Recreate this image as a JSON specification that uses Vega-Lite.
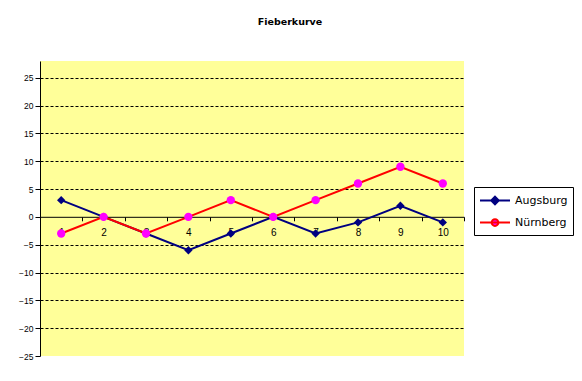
{
  "$schema": "https://vega.github.io/schema/vega-lite/v6.json",
  "width": 424,
  "height": 295,
  "autosize": {"type": "none"},
  "padding": {"left": 40, "top": 61, "right": 118, "bottom": 25},
  "background": "white",
  "title": {
    "text": "Fieberkurve",
    "anchor": "middle",
    "dx": 38,
    "offset": 26.5,
    "baseline": "alphabetic",
    "font": "DejaVu Sans",
    "fontSize": 9.5,
    "fontWeight": "bold",
    "color": "black"
  },
  "data": {
    "values": [
      {"Tag": 1, "Stadt": "Augsburg", "Wert": 3},
      {"Tag": 2, "Stadt": "Augsburg", "Wert": 0},
      {"Tag": 3, "Stadt": "Augsburg", "Wert": -3},
      {"Tag": 4, "Stadt": "Augsburg", "Wert": -6},
      {"Tag": 5, "Stadt": "Augsburg", "Wert": -3},
      {"Tag": 6, "Stadt": "Augsburg", "Wert": 0},
      {"Tag": 7, "Stadt": "Augsburg", "Wert": -3},
      {"Tag": 8, "Stadt": "Augsburg", "Wert": -1},
      {"Tag": 9, "Stadt": "Augsburg", "Wert": 2},
      {"Tag": 10, "Stadt": "Augsburg", "Wert": -1},
      {"Tag": 1, "Stadt": "Nürnberg", "Wert": -3},
      {"Tag": 2, "Stadt": "Nürnberg", "Wert": 0},
      {"Tag": 3, "Stadt": "Nürnberg", "Wert": -3},
      {"Tag": 4, "Stadt": "Nürnberg", "Wert": 0},
      {"Tag": 5, "Stadt": "Nürnberg", "Wert": 3},
      {"Tag": 6, "Stadt": "Nürnberg", "Wert": 0},
      {"Tag": 7, "Stadt": "Nürnberg", "Wert": 3},
      {"Tag": 8, "Stadt": "Nürnberg", "Wert": 6},
      {"Tag": 9, "Stadt": "Nürnberg", "Wert": 9},
      {"Tag": 10, "Stadt": "Nürnberg", "Wert": 6}
    ]
  },
  "encoding": {
    "x": {
      "field": "Tag",
      "type": "ordinal",
      "scale": {"type": "band", "paddingInner": 0, "paddingOuter": 0},
      "axis": {
        "title": null,
        "offset": -139.2,
        "domainColor": "black",
        "domainWidth": 1,
        "tickColor": "black",
        "tickSize": 4,
        "tickBand": "extent",
        "labelAngle": 0,
        "labelFont": "Liberation Sans",
        "labelFontSize": 10,
        "labelColor": "black",
        "labelPadding": 7,
        "grid": false
      }
    },
    "y": {
      "field": "Wert",
      "type": "quantitative",
      "scale": {"domain": [-25, 28], "nice": false, "zero": false},
      "axis": {
        "title": null,
        "values": [-25, -20, -15, -10, -5, 0, 5, 10, 15, 20, 25],
        "grid": true,
        "gridColor": "black",
        "gridDash": [3, 2],
        "gridOpacity": {"condition": {"test": "datum.value === -25 || datum.value === 0", "value": 0}, "value": 1},
        "domainColor": "black",
        "tickColor": "black",
        "tickSize": 5,
        "labelFont": "Liberation Sans",
        "labelFontSize": 8.5,
        "labelColor": "black",
        "labelPadding": 2
      }
    }
  },
  "layer": [
    {
      "mark": {"type": "line", "strokeWidth": 2},
      "encoding": {
        "color": {
          "field": "Stadt",
          "type": "nominal",
          "scale": {"domain": ["Augsburg", "Nürnberg"], "range": ["#000080", "#FF0000"]},
          "legend": {
            "title": null,
            "orient": "none",
            "legendX": 434,
            "legendY": 126,
            "strokeColor": "black",
            "fillColor": "white",
            "padding": 5,
            "symbolSize": 225,
            "symbolStrokeWidth": 2,
            "labelOffset": 19,
            "rowPadding": 5,
            "labelFont": "DejaVu Sans",
            "labelFontSize": 11,
            "labelColor": "black",
            "symbolType": "M-1,0H3",
            "encode": {
              "symbols": {
                "update": {
                  "shape": {"signal": "datum.value === 'Augsburg' ? 'M-1,0H3M1,-0.5L1.5,0L1,0.5L0.5,0Z' : 'M-1,0H3M1.45,0A0.45,0.45,0,1,1,0.55,0A0.45,0.45,0,1,1,1.45,0Z'"},
                  "fill": {"signal": "datum.value === 'Augsburg' ? '#000080' : '#FF00FF'"},
                  "strokeWidth": {"value": 2}
                }
              }
            }
          }
        }
      }
    },
    {
      "transform": [{"filter": "datum.Stadt === 'Augsburg'"}],
      "mark": {"type": "point", "shape": "diamond", "filled": true, "size": 70, "opacity": 1, "color": "#000080"}
    },
    {
      "transform": [{"filter": "datum.Stadt === 'Nürnberg'"}],
      "mark": {"type": "point", "shape": "circle", "filled": true, "size": 70, "opacity": 1, "color": "#FF00FF"}
    }
  ],
  "config": {
    "view": {"fill": "#FFFF99", "stroke": null}
  }
}
